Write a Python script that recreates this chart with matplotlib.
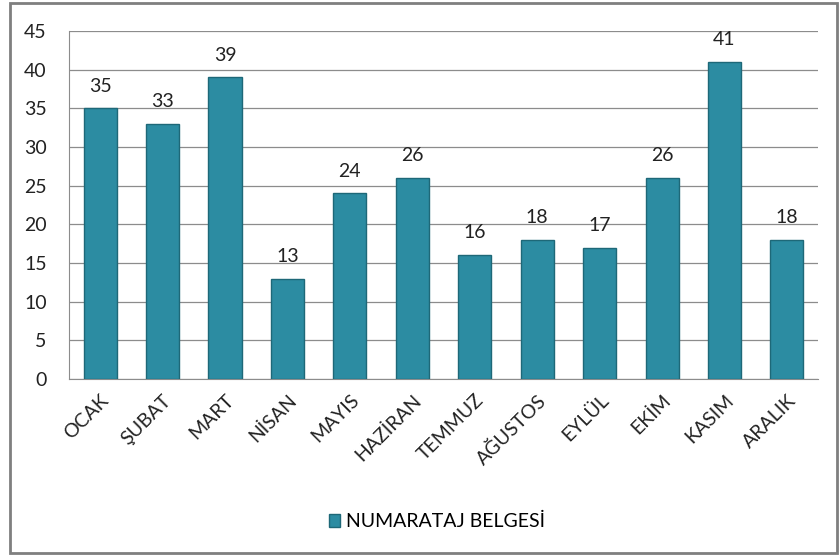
import matplotlib
matplotlib.use("Agg")
import matplotlib.pyplot as plt
from matplotlib.patches import Rectangle
import numpy as np

plt.rcParams["font.family"] = ["Lato", "DejaVu Sans"]

months = ["OCAK", "ŞUBAT", "MART", "NİSAN", "MAYIS", "HAZİRAN",
          "TEMMUZ", "AĞUSTOS", "EYLÜL", "EKİM", "KASIM", "ARALIK"]
counts = [35, 33, 39, 13, 24, 26, 16, 18, 17, 26, 41, 18]
series_name = "NUMARATAJ BELGESİ"

BAR = "#2C8CA2"
EDGE = "#1E6878"

fig = plt.figure(figsize=(8.4, 5.55), dpi=100)
fig.patch.set_facecolor("white")
# outer chart frame
fig.patches.append(Rectangle((0.012, 0.004), 0.984, 0.99, transform=fig.transFigure,
                             fill=False, edgecolor="#7F7F7F", linewidth=2))

ax = fig.add_axes([0.082, 0.317, 0.892, 0.627])
x = np.arange(len(months))
bars = ax.bar(x, counts, width=0.53, color=BAR, edgecolor=EDGE, linewidth=1,
              label=series_name, zorder=3)

for b, v in zip(bars, counts):
    ax.annotate(str(v), xy=(b.get_x() + b.get_width() / 2, v), xytext=(0, 10),
                textcoords="offset points", ha="center", va="bottom",
                fontsize=14, color="#222222")

ax.set_xlim(-0.5, len(months) - 0.5)
ax.set_ylim(0, 45)
ax.set_yticks(range(0, 46, 5))
ax.yaxis.grid(True, color="#8C8C8C", linewidth=0.9, zorder=0)
ax.set_axisbelow(True)
ax.tick_params(axis="y", length=0, labelsize=14, pad=16, colors="#222222")
ax.tick_params(axis="x", length=0, pad=9, colors="#222222")
ax.set_xticks(x)
ax.set_xticklabels(months, rotation=45, ha="right", rotation_mode="anchor", fontsize=14)

for s in ["top", "right"]:
    ax.spines[s].set_visible(False)
ax.spines["left"].set_color("#8C8C8C")
ax.spines["bottom"].set_color("#8C8C8C")

fig.legend(handles=[bars], labels=[series_name], loc="center",
           bbox_to_anchor=(0.52, 0.06), frameon=False, fontsize=14,
           handlelength=0.6, handleheight=0.6, handletextpad=0.3)

fig.savefig("out.png", dpi=100)
